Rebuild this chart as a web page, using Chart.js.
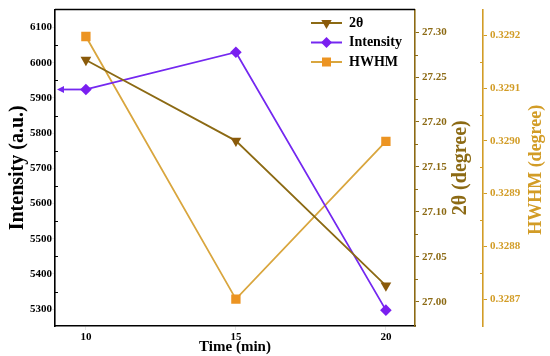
<!DOCTYPE html>
<html>
<head>
<meta charset="utf-8">
<script src="https://cdn.jsdelivr.net/npm/chart.js@4"></script>
<style>
  html, body { margin: 0; padding: 0; background: #fff; }
  #wrap { width: 550px; height: 356px; }
</style>
</head>
<body>
<div id="wrap"><canvas id="chart" width="550" height="356"></canvas></div>
<script>
// values
const times = [10, 15, 20];
const twoTheta = [27.269, 27.179, 27.018];
const intensity = [5924, 6030, 5297];
const hwhm = [0.329198, 0.3287, 0.328999];

const timeTicks = [10, 15, 20];
const intensityTicks = [5300, 5400, 5500, 5600, 5700, 5800, 5900, 6000, 6100];
const twoThetaTicks = [27.0, 27.05, 27.1, 27.15, 27.2, 27.25, 27.3];
const hwhmTicks = [0.3287, 0.3288, 0.3289, 0.329, 0.3291, 0.3292];

const BROWN = '#8c6a14';
const GOLD = '#d29c26';
const PURPLE = '#7428f0';
const SERIF = "'Liberation Serif', 'Times New Roman', serif";

Chart.defaults.font.family = SERIF;
Chart.defaults.font.weight = 'bold';

const toPoints = (ys) => times.map((t, i) => ({ x: t, y: ys[i] }));

function drawMarker(ctx, style, x, y, color) {
  ctx.save();
  ctx.fillStyle = color;
  ctx.beginPath();
  if (style === 'tri') {
    ctx.moveTo(x - 5.2, y - 3);
    ctx.lineTo(x + 5.2, y - 3);
    ctx.lineTo(x, y + 6);
  } else if (style === 'diamond') {
    ctx.moveTo(x, y - 5.5);
    ctx.lineTo(x + 5.5, y);
    ctx.lineTo(x, y + 5.5);
    ctx.lineTo(x - 5.5, y);
  } else {
    ctx.rect(x - 4.5, y - 4.5, 9, 9);
  }
  ctx.closePath();
  ctx.fill();
  ctx.restore();
}

function minorTicks(ctx, scale, values, x, dir, color) {
  ctx.save();
  ctx.strokeStyle = color;
  ctx.lineWidth = 1;
  values.forEach((v) => {
    const y = Math.round(scale.getPixelForValue(v)) + 0.5;
    ctx.beginPath();
    ctx.moveTo(x, y);
    ctx.lineTo(x + dir * 3, y);
    ctx.stroke();
  });
  ctx.restore();
}

const midpoints = (arr) => arr.slice(1).map((v, i) => (v + arr[i]) / 2);

function sideTitle(ctx, text, x, y, size, color) {
  ctx.save();
  ctx.font = 'bold ' + size + 'px ' + SERIF;
  ctx.textAlign = 'center';
  ctx.textBaseline = 'middle';
  ctx.translate(x, y);
  ctx.rotate(-Math.PI / 2);
  ctx.fillStyle = color;
  ctx.fillText(text, 0, 0);
  ctx.restore();
}

const decor = {
  id: 'decor',
  beforeDatasetsDraw(chart) {
    // arrow pointing the intensity series to its axis
    const { ctx, chartArea, scales } = chart;
    const x0 = scales.x.getPixelForValue(times[0]);
    const y0 = scales.y.getPixelForValue(intensity[0]);
    const xe = chartArea.left + 2;
    ctx.save();
    ctx.strokeStyle = PURPLE;
    ctx.fillStyle = PURPLE;
    ctx.lineWidth = 1.8;
    ctx.beginPath();
    ctx.moveTo(x0, y0);
    ctx.lineTo(xe + 5, y0);
    ctx.stroke();
    ctx.beginPath();
    ctx.moveTo(xe, y0);
    ctx.lineTo(xe + 7, y0 - 3.5);
    ctx.lineTo(xe + 7, y0 + 3.5);
    ctx.closePath();
    ctx.fill();
    ctx.restore();
  },
  afterDraw(chart) {
    const { ctx, chartArea, scales } = chart;
    // top frame line
    ctx.save();
    ctx.strokeStyle = '#000';
    ctx.lineWidth = 1.5;
    ctx.beginPath();
    ctx.moveTo(chartArea.left, chartArea.top);
    ctx.lineTo(chartArea.right, chartArea.top);
    ctx.stroke();
    ctx.restore();

    minorTicks(ctx, scales.y, midpoints(intensityTicks), chartArea.left, 1, '#000');
    minorTicks(ctx, scales.y1, midpoints(twoThetaTicks), chartArea.right, 1, BROWN);
    minorTicks(ctx, scales.y2, midpoints(hwhmTicks), scales.y2.left, -1, GOLD);

    // right-hand axis titles, read bottom to top
    const midY = (chartArea.top + chartArea.bottom) / 2;
    sideTitle(ctx, '2θ (degree)', scales.y1.left + 46, midY, 20, BROWN);
    sideTitle(ctx, 'HWHM (degree)', scales.y2.left + 53, midY + 2, 18, GOLD);

    // legend
    const lx = 311;
    let ly = 23;
    ctx.save();
    ctx.font = 'bold 14px ' + SERIF;
    ctx.textBaseline = 'middle';
    chart.data.datasets.forEach((ds) => {
      ctx.strokeStyle = ds.borderColor;
      ctx.lineWidth = 2;
      ctx.beginPath();
      ctx.moveTo(lx, ly);
      ctx.lineTo(lx + 31, ly);
      ctx.stroke();
      drawMarker(ctx, ds.legendMarker, lx + 15.5, ly, ds.pointBackgroundColor);
      ctx.fillStyle = '#000';
      ctx.fillText(ds.label, lx + 38, ly);
      ly += 19.5;
    });
    ctx.restore();
  },
};

new Chart(document.getElementById('chart'), {
  type: 'line',
  data: {
    datasets: [
      {
        label: '2θ',
        data: toPoints(twoTheta),
        yAxisID: 'y1',
        borderColor: BROWN,
        borderWidth: 1.8,
        pointStyle: 'triangle',
        rotation: 180,
        radius: 6.2,
        pointBackgroundColor: '#8a5a0a',
        pointBorderWidth: 0,
        legendMarker: 'tri',
      },
      {
        label: 'Intensity',
        data: toPoints(intensity),
        yAxisID: 'y',
        borderColor: PURPLE,
        borderWidth: 1.8,
        pointStyle: 'rectRot',
        radius: 5.8,
        pointBackgroundColor: '#7a1ff0',
        pointBorderWidth: 0,
        legendMarker: 'diamond',
      },
      {
        label: 'HWHM',
        data: toPoints(hwhm),
        yAxisID: 'y2',
        borderColor: '#d9a63e',
        borderWidth: 1.8,
        pointStyle: 'rect',
        radius: 6.6,
        pointBackgroundColor: '#ec9422',
        pointBorderWidth: 0,
        legendMarker: 'rect',
      },
    ],
  },
  options: {
    responsive: false,
    animation: false,
    devicePixelRatio: 1,
    layout: { padding: { top: 7, left: 0, right: 0, bottom: 0 } },
    plugins: { legend: { display: false }, tooltip: { enabled: false } },
    scales: {
      x: {
        type: 'linear',
        position: 'bottom',
        min: 8.97,
        max: 20.97,
        afterBuildTicks: (s) => { s.ticks = timeTicks.map((v) => ({ value: v })); },
        afterFit: (s) => { s.height = 30; },
        grid: { drawOnChartArea: false, tickLength: 4 },
        border: { color: '#000', width: 1.6 },
        ticks: { color: '#000', font: { size: 11, weight: 'bold' }, padding: 1, maxRotation: 0 },
        title: {
          display: true,
          text: 'Time (min)',
          color: '#000',
          font: { size: 15, weight: 'bold' },
          padding: { top: 0, bottom: 0 },
        },
      },
      y: {
        type: 'linear',
        position: 'left',
        min: 5252,
        max: 6151,
        afterBuildTicks: (s) => { s.ticks = intensityTicks.map((v) => ({ value: v })); },
        afterFit: (s) => { s.width = 55; },
        grid: { drawOnChartArea: false, tickLength: 3 },
        border: { color: '#000', width: 1.6 },
        ticks: { color: '#000', font: { size: 11, weight: 'bold' }, padding: 0, callback: (v) => String(v) },
        title: {
          display: true,
          text: 'Intensity (a.u.)',
          color: '#000',
          font: { size: 20, weight: 'bold' },
          padding: { top: 6, bottom: 0 },
        },
      },
      y1: {
        type: 'linear',
        position: 'right',
        min: 26.973,
        max: 27.325,
        afterBuildTicks: (s) => { s.ticks = twoThetaTicks.map((v) => ({ value: v })); },
        afterFit: (s) => { s.width = 68; },
        grid: { drawOnChartArea: false, tickLength: 4, color: BROWN },
        border: { color: BROWN, width: 1.6 },
        ticks: { color: BROWN, font: { size: 11, weight: 'bold' }, padding: 3, callback: (v) => v.toFixed(2) },
      },
      y2: {
        type: 'linear',
        position: 'right',
        min: 0.328649,
        max: 0.329249,
        afterBuildTicks: (s) => { s.ticks = hwhmTicks.map((v) => ({ value: v })); },
        afterFit: (s) => { s.width = 67; },
        grid: { drawOnChartArea: false, tickLength: 4, color: GOLD },
        border: { color: GOLD, width: 1.6 },
        ticks: { color: GOLD, font: { size: 11, weight: 'bold' }, padding: 3, callback: (v) => v.toFixed(4) },
      },
    },
  },
  plugins: [decor],
});
</script>
</body>
</html>
